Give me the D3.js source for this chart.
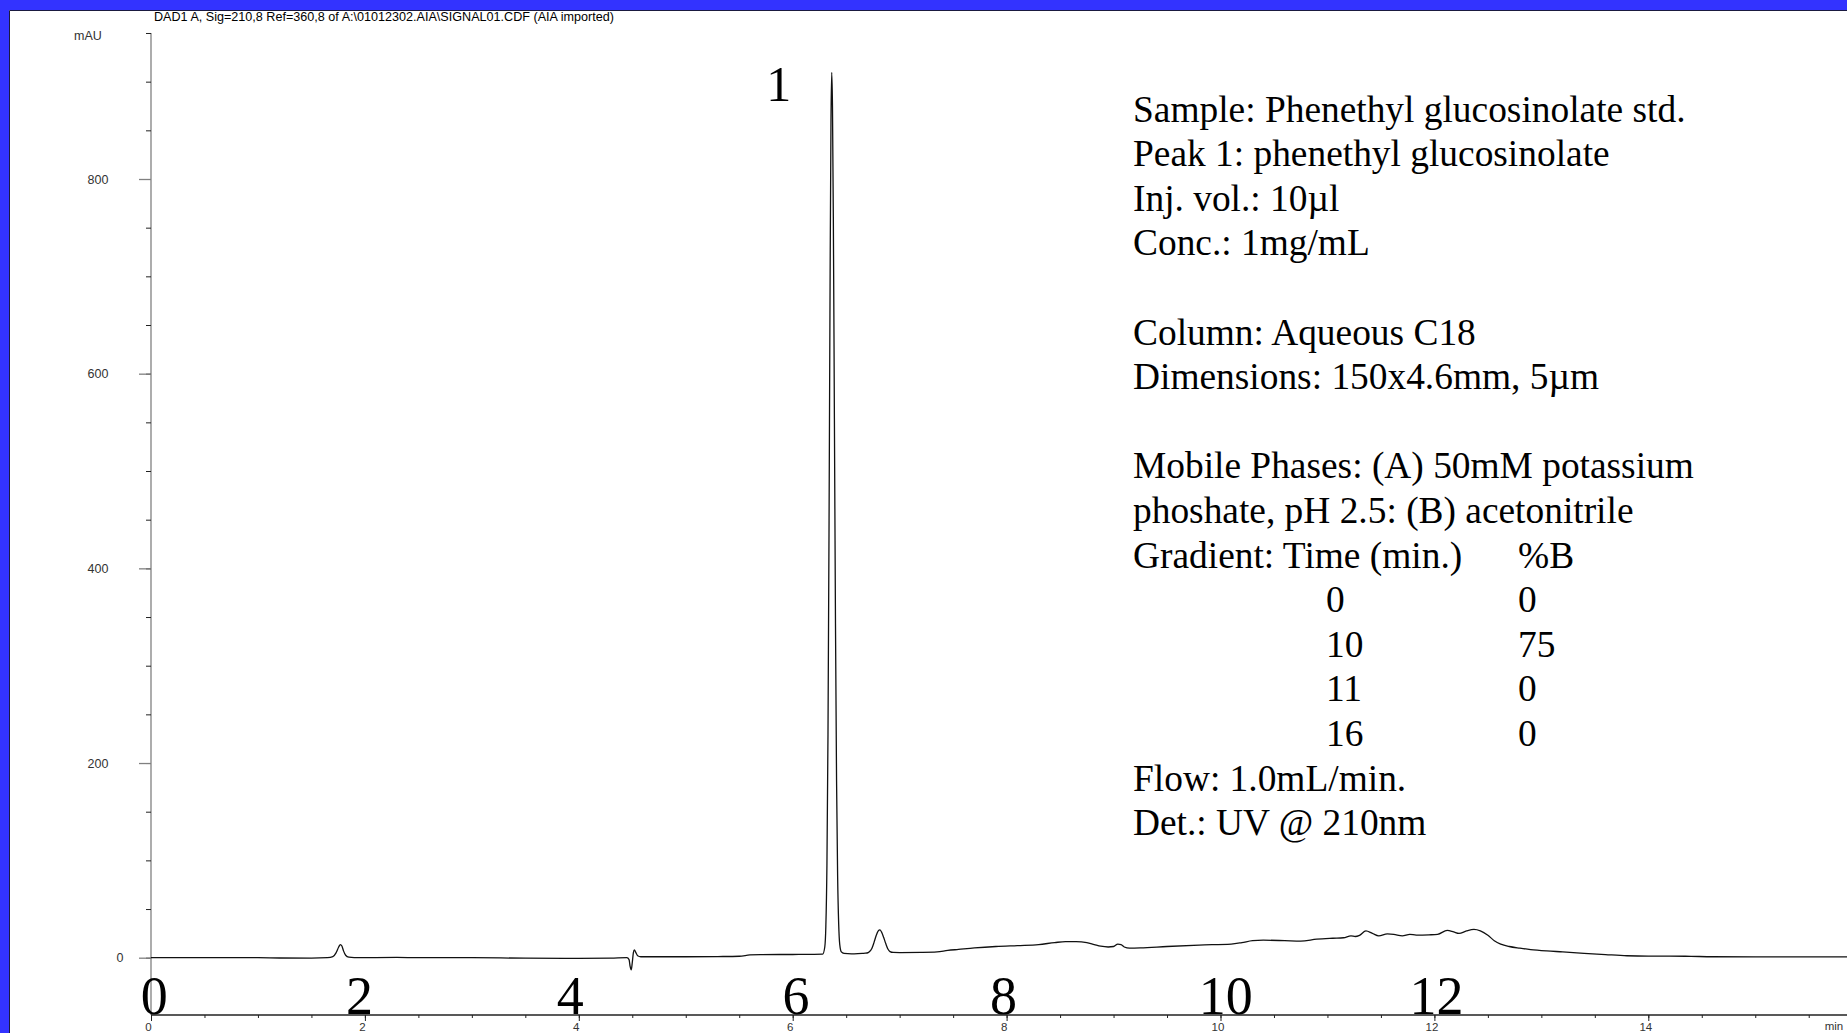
<!DOCTYPE html>
<html>
<head>
<meta charset="utf-8">
<script src="https://cdn.jsdelivr.net/npm/d3@7"></script>
<style>
  body { margin: 0; background: #3333ff; overflow: hidden; }
  svg { display: block; }
</style>
</head>
<body>
<div id="graph"></div>
<script>

// signal: time (min) and absorbance (mAU)
var signalTime = [0, 0.5, 1.0, 1.2, 1.5, 1.65, 1.70, 1.73, 1.755, 1.77, 1.785, 1.80, 1.82, 1.85, 1.9, 2.3, 2.5, 3.0, 3.5, 4.0, 4.3, 4.45,
  4.47, 4.48, 4.49, 4.50, 4.51, 4.52, 4.53, 4.55, 4.58, 5.0, 5.3, 5.5, 5.6, 5.7, 6.0, 6.2, 6.28,
  6.30, 6.31, 6.32, 6.33, 6.34, 6.35, 6.358, 6.365, 6.372, 6.38, 6.39, 6.40, 6.41, 6.42, 6.43, 6.44, 6.455, 6.48, 6.55, 6.65,
  6.68, 6.71, 6.74, 6.76, 6.78, 6.80, 6.815, 6.83, 6.85, 6.87, 6.89, 6.91, 6.94, 7.0, 7.2, 7.35, 7.45, 7.55, 7.7, 7.9,
  8.1, 8.3, 8.45, 8.55, 8.65, 8.75, 8.82, 8.88, 8.95, 9.0, 9.04, 9.07, 9.1, 9.15, 9.25, 9.5, 9.8, 10.1, 10.2, 10.3,
  10.4, 10.6, 10.75, 10.9, 11.05, 11.15, 11.22, 11.26, 11.3, 11.36, 11.42, 11.48, 11.56, 11.62, 11.70, 11.77, 11.83,
  11.95, 12.03, 12.12, 12.18, 12.23, 12.30, 12.37, 12.43, 12.5, 12.56, 12.62, 12.7, 12.8, 12.9, 13.05, 13.2, 13.4,
  13.6, 13.8, 14.0, 14.2, 14.4, 14.6, 15.0, 15.5, 15.9];
var signalMAU = [0, 0, 0, -0.3, -0.4, 0, 1, 5, 11, 13.5, 12, 7, 2.5, 0.5, 0, 0.3, 0, 0, -0.5, -0.6, -0.4, 0,
  -2, -9, -12.5, -5, 5, 8, 6, 2, 1, 1, 1.2, 1.5, 2.8, 3.2, 3.3, 3.4, 3.6,
  11, 32.5, 94.5, 229.5, 449.5, 705.5, 860.5, 909.5, 874.5, 760.5, 553.5, 343.5, 182.5, 84.5, 34.5, 13.5, 6, 4.5, 4, 4.5,
  4.6, 5.5, 9.5, 15.5, 22.5, 27.5, 28.5, 26.5, 21, 14.5, 9, 6.3, 5.4, 5.3, 5.5, 6, 7.5, 8.5, 10, 11.5,
  12.5, 13.5, 15.5, 16.5, 16.5, 15.5, 13.5, 11.8, 11, 11.5, 14, 13.5, 11, 9.8, 10, 11.5, 13, 14, 15.5, 17.5,
  18, 17.5, 17, 19, 20, 20.5, 22.5, 21.8, 23, 27.5, 25, 22.5, 24.5, 24, 22.5, 24, 23.2,
  23.5, 24, 28, 26.5, 25, 27.5, 29, 27.5, 23, 17.5, 14, 11.5, 9.8, 8.4, 7, 6, 4.5,
  3.2, 2, 1.6, 1.7, 1.4, 1, 0.9, 0.9, 0.9];

var yMajorTicks = [0, 200, 400, 600, 800];
var xMajorTicks = [0, 2, 4, 6, 8, 10, 12, 14];
var bigLabels = ["0", "2", "4", "6", "8", "10", "12"];
var bigLabelTime = [0.03, 1.95, 3.92, 6.03, 7.97, 10.05, 12.02];

var title = "DAD1 A, Sig=210,8 Ref=360,8 of A:\\01012302.AIA\\SIGNAL01.CDF (AIA imported)";
var peakLabel = {text: "1", t: 5.87, v: 880};

var infoLines = [
  "Sample: Phenethyl glucosinolate std.",
  "Peak 1: phenethyl glucosinolate",
  "Inj. vol.: 10\u00b5l",
  "Conc.: 1mg/mL",
  "",
  "Column: Aqueous C18",
  "Dimensions: 150x4.6mm, 5\u00b5m",
  "",
  "Mobile Phases: (A) 50mM potassium",
  "phoshate, pH 2.5: (B) acetonitrile",
  "Gradient: Time (min.)",
  "", "", "", "",
  "Flow: 1.0mL/min.",
  "Det.: UV @ 210nm"
];
var gradTime = ["0", "10", "11", "16"];
var gradB = ["0", "75", "0", "0"];

var W = 1847, H = 1033;

var svg = d3.select("#graph")
  .append("svg")
    .attr("width", W)
    .attr("height", H);

// white plot sheet inside the blue frame
svg.append("rect")
  .attr("x", 9).attr("y", 10)
  .attr("width", W - 9).attr("height", H - 10)
  .style("fill", "#fff");
svg.append("path")
  .attr("d", "M9.5," + H + "V10.5H" + W)
  .style("fill", "none").style("stroke", "#1a1a40").style("stroke-width", 1);

var x = d3.scaleLinear().domain([0, 14]).range([151, 1648.3]);
var y = d3.scaleLinear().domain([0, 800]).range([957.7, 179]);
var xAxisY = 1015;

var sans = "'Liberation Sans', Arial, sans-serif";
var serif = "'Liberation Serif', 'Times New Roman', serif";

// title
svg.append("text")
  .attr("x", 154).attr("y", 21)
  .style("font-family", sans).style("font-size", "12.6px")
  .text(title);

// Y axis
svg.append("line")
  .attr("x1", x(0)).attr("x2", x(0))
  .attr("y1", y(950)).attr("y2", xAxisY)
  .style("stroke", "#808080").style("stroke-width", 1.3);

var yMinor = svg.append("g")
  .attr("transform", "translate(" + x(0) + ",0)")
  .call(d3.axisLeft(y).tickValues(d3.range(0, 951, 50)).tickSize(5).tickFormat(""));
yMinor.select(".domain").remove();
yMinor.selectAll("line").style("stroke", "#222");

var yMajor = svg.append("g")
  .attr("transform", "translate(" + x(0) + ",0)")
  .call(d3.axisLeft(y).tickValues(yMajorTicks).tickSize(12).tickFormat(""));
yMajor.select(".domain").remove();
yMajor.selectAll("line").style("stroke", "#808080").style("stroke-width", 1.3);

svg.selectAll(".ylab")
  .data(yMajorTicks)
  .enter()
  .append("text")
    .attr("class", "ylab")
    .attr("x", function (d) { return d === 0 ? 120 : 98; })
    .attr("y", function (d) { return y(d) + 4.5; })
    .style("text-anchor", "middle")
    .style("font-family", sans).style("font-size", "12.5px").style("fill", "#333")
    .text(function (d) { return d; });

svg.append("text")
  .attr("x", 88).attr("y", 40)
  .style("text-anchor", "middle")
  .style("font-family", sans).style("font-size", "12.5px").style("fill", "#333")
  .text("mAU");

// X axis
svg.append("line")
  .attr("x1", x(0)).attr("x2", W)
  .attr("y1", xAxisY).attr("y2", xAxisY)
  .style("stroke", "#222").style("stroke-width", 1.3);

var xMinor = svg.append("g")
  .attr("transform", "translate(0," + xAxisY + ")")
  .call(d3.axisBottom(x).tickValues(d3.range(0, 16, 0.5)).tickSize(3).tickFormat(""));
xMinor.select(".domain").remove();
xMinor.selectAll("line").style("stroke", "#222");

var xMajor = svg.append("g")
  .attr("transform", "translate(0," + xAxisY + ")")
  .call(d3.axisBottom(x).tickValues(xMajorTicks).tickSize(6).tickPadding(2));
xMajor.select(".domain").remove();
xMajor.selectAll("line").style("stroke", "#222");
xMajor.selectAll("text")
  .attr("dx", -3)
  .style("font-family", sans).style("font-size", "11.5px").style("fill", "#333");

svg.append("text")
  .attr("x", 1834).attr("y", 1030)
  .style("text-anchor", "middle")
  .style("font-family", sans).style("font-size", "11.5px").style("fill", "#333")
  .text("min");

// large hand-placed axis numbers
svg.selectAll(".biglab")
  .data(bigLabels)
  .enter()
  .append("text")
    .attr("class", "biglab")
    .attr("x", function (d, i) { return x(bigLabelTime[i]); })
    .attr("y", 1014)
    .style("text-anchor", "middle")
    .style("font-family", serif).style("font-size", "54px")
    .text(function (d) { return d; });

// chromatogram trace
var pts = signalTime.map(function (t, i) { return [t, signalMAU[i]]; });
var line = d3.line()
  .x(function (d) { return x(d[0]); })
  .y(function (d) { return y(d[1]); })
  .curve(d3.curveMonotoneX);

svg.append("path")
  .datum(pts)
  .attr("d", line)
  .style("fill", "none")
  .style("stroke", "#111")
  .style("stroke-width", 1.3);

// peak number
svg.append("text")
  .attr("x", x(peakLabel.t)).attr("y", y(peakLabel.v))
  .style("text-anchor", "middle")
  .style("font-family", serif).style("font-size", "50px")
  .text(peakLabel.text);

// method info block
var infoX = 1133, infoY = 121.5, lh = 44.6, infoFont = "37.4px";
svg.selectAll(".info")
  .data(infoLines)
  .enter()
  .append("text")
    .attr("class", "info")
    .attr("x", infoX)
    .attr("y", function (d, i) { return infoY + i * lh; })
    .style("font-family", serif).style("font-size", infoFont)
    .text(function (d) { return d; });

svg.append("text")
  .attr("x", 1518).attr("y", infoY + 10 * lh)
  .style("font-family", serif).style("font-size", infoFont)
  .text("%B");

svg.selectAll(".gt")
  .data(gradTime)
  .enter()
  .append("text")
    .attr("x", 1326)
    .attr("y", function (d, i) { return infoY + (11 + i) * lh; })
    .style("font-family", serif).style("font-size", infoFont)
    .text(function (d) { return d; });

svg.selectAll(".gb")
  .data(gradB)
  .enter()
  .append("text")
    .attr("x", 1518)
    .attr("y", function (d, i) { return infoY + (11 + i) * lh; })
    .style("font-family", serif).style("font-size", infoFont)
    .text(function (d) { return d; });

</script>
</body>
</html>
